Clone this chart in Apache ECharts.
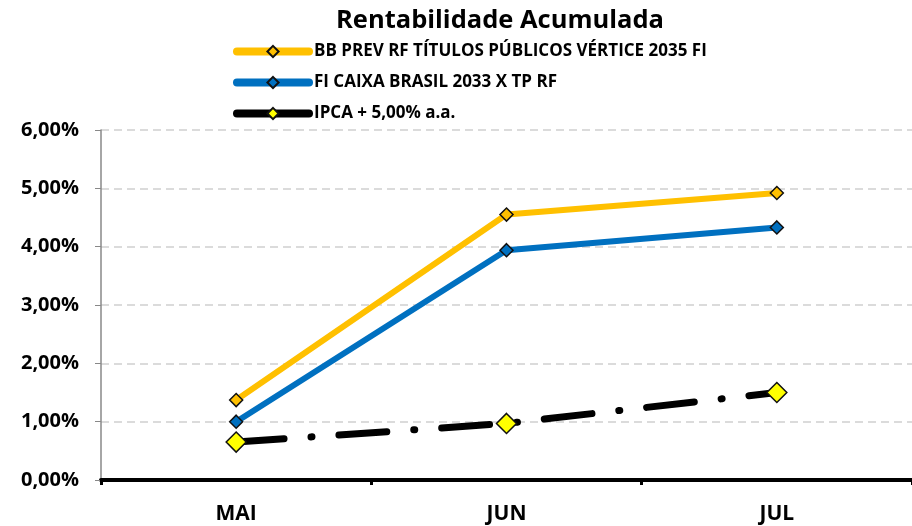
<!DOCTYPE html>
<html><head><meta charset="utf-8">
<script src="https://cdn.jsdelivr.net/npm/echarts@6/dist/echarts.min.js"></script>
<style>html,body{margin:0;padding:0;background:#fff}#c{width:912px;height:526px}</style>
</head><body><div id="c"></div>
<script>
const categories = ['MAI', 'JUN', 'JUL'];
const seriesNames = ['BB PREV RF TÍTULOS PÚBLICOS VÉRTICE 2035 FI', 'FI CAIXA BRASIL 2033 X TP RF', 'IPCA + 5,00% a.a.'];
const bbPrev = [1.37, 4.55, 4.92];
const caixa = [1.00, 3.94, 4.33];
const ipca = [0.65, 0.97, 1.50];
const yTicks = [0, 1, 2, 3, 4, 5, 6];

const FONT = 'Open Sans';
const chart = echarts.init(document.getElementById('c'));
chart.setOption({
  animation: false,
  backgroundColor: '#fff',
  title: {
    text: 'Rentabilidade Acumulada', left: 495, top: 3, textAlign: 'center',
    textStyle: { fontFamily: FONT, fontWeight: 'bold', fontSize: 25.5, color: '#000' }
  },
  legend: {
    orient: 'vertical', left: 228, top: 38, itemWidth: 72, itemHeight: 14, itemGap: 14,
    textStyle: { fontFamily: FONT, fontWeight: 'bold', fontSize: 17, color: '#000' },
    lineStyle: { width: 8, cap: 'round', type: 'solid' },
    data: seriesNames
  },
  grid: { left: 101, right: -14, top: 130, bottom: 46 },
  xAxis: {
    type: 'category', data: categories, boundaryGap: true,
    axisLine: { lineStyle: { color: '#000', width: 4 } },
    axisTick: { show: true, length: 5, lineStyle: { color: '#000', width: 3 } },
    axisLabel: { fontFamily: FONT, fontWeight: 'bold', fontSize: 21, color: '#000', margin: 24 }
  },
  yAxis: {
    type: 'value', min: 0, max: 6, interval: 1,
    axisLine: { show: true, lineStyle: { color: '#888', width: 1.5 } },
    axisTick: { show: true, length: 6, lineStyle: { color: '#888' } },
    splitLine: { lineStyle: { color: '#d0d0d0', type: [8, 5], width: 1.5 } },
    axisLabel: {
      fontFamily: FONT, fontWeight: 'bold', fontSize: 20, color: '#000', margin: 22,
      formatter: v => v.toFixed(2).replace('.', ',') + '%'
    }
  },
  series: [
    {
      name: seriesNames[0], type: 'line', data: bbPrev, symbol: 'diamond', symbolSize: 13,
      lineStyle: { color: '#FFC000', width: 6 },
      itemStyle: { color: '#FFC000', borderColor: '#111', borderWidth: 1.5 }, z: 3
    },
    {
      name: seriesNames[1], type: 'line', data: caixa, symbol: 'diamond', symbolSize: 13,
      lineStyle: { color: '#0070C0', width: 6 },
      itemStyle: { color: '#0070C0', borderColor: '#111', borderWidth: 1.5 }, z: 3
    },
    {
      name: seriesNames[2], type: 'line', data: ipca, symbol: 'diamond', symbolSize: 20,
      lineStyle: { color: '#000', width: 7, type: [48, 27, 1, 27], cap: 'round' },
      itemStyle: { color: '#FFFF00', borderColor: '#111', borderWidth: 1.5 }, z: 3
    }
  ]
});
</script></body></html>
